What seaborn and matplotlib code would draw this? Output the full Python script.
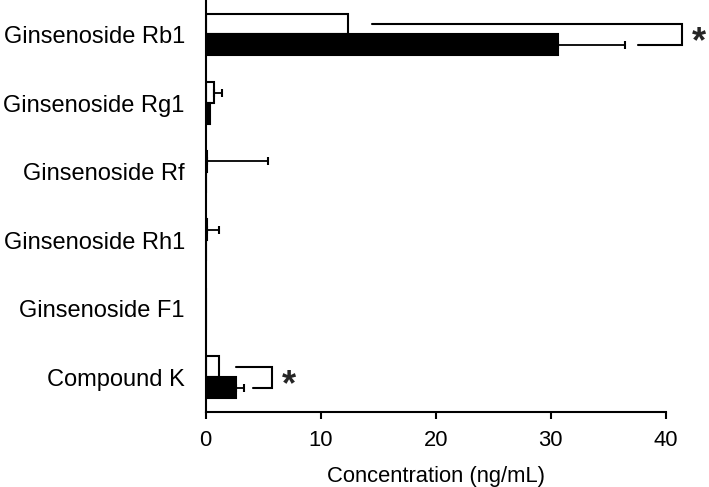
import seaborn as sns
import matplotlib.pyplot as plt
import pandas as pd
import numpy as np

# values (ng/mL)
categories = ["Ginsenoside Rb1", "Ginsenoside Rg1", "Ginsenoside Rf",
              "Ginsenoside Rh1", "Ginsenoside F1", "Compound K"]
groups = ["Group 1", "Group 2"]
white_mean = [12.4, 0.7, 0.1, 0.1, 0.0, 1.2]
white_sd = [0.0, 0.7, 5.3, 1.1, 0.0, 0.0]
black_mean = [30.6, 0.4, 0.0, 0.0, 0.0, 2.6]
black_sd = [5.9, 0.0, 0.0, 0.0, 0.0, 0.7]

# significance brackets
sig_categories = ["Ginsenoside Rb1", "Compound K"]
bracket_x = [41.4, 5.75]
bracket_top_start = [14.5, 2.6]
bracket_bottom_start = [37.6, 4.1]

df = pd.DataFrame({
    "Compound": categories * 2,
    "Group": [groups[0]] * len(categories) + [groups[1]] * len(categories),
    "Value": white_mean + black_mean,
})

sns.set_style("ticks")
plt.rcParams["font.family"] = ["Liberation Sans", "DejaVu Sans"]

fig = plt.figure(figsize=(7.09, 4.87), dpi=100)
ax = fig.add_axes([0.290, 0.1546, 0.649, 0.845])

sns.barplot(
    data=df, x="Value", y="Compound", hue="Group", orient="h",
    order=categories, hue_order=groups,
    palette={groups[0]: "white", groups[1]: "black"},
    edgecolor="black", linewidth=1.5, width=0.61,
    errorbar=None, legend=False, ax=ax,
)

# one-sided error bars on each series
for container, means, sds in zip(ax.containers, [white_mean, black_mean], [white_sd, black_sd]):
    for patch, m, s in zip(container.patches, means, sds):
        if s <= 0:
            continue
        yc = patch.get_y() + patch.get_height() / 2
        ax.errorbar(m, yc, xerr=[[0], [s]], fmt="none", ecolor="black",
                    elinewidth=1.3, capsize=3, capthick=1.5, clip_on=False)

# brackets with asterisks
for cat, bx, t0, b0 in zip(sig_categories, bracket_x, bracket_top_start, bracket_bottom_start):
    i = categories.index(cat)
    pw = ax.containers[0].patches[i]
    pb = ax.containers[1].patches[i]
    yw = pw.get_y() + pw.get_height() / 2
    yb = pb.get_y() + pb.get_height() / 2
    ax.plot([t0, bx, bx, b0], [yw, yw, yb, yb], color="black", lw=1.5,
            clip_on=False, solid_joinstyle="miter")
    ax.text(bx + 0.85, (yw + yb) / 2 + 0.12, "*", fontsize=26, fontweight="bold",
            ha="left", va="center", clip_on=False)

ax.set_xlim(0, 40)
ax.set_ylim(5.5, -0.5)
ax.set_xticks([0, 10, 20, 30, 40])
ax.set_xlabel("Concentration (ng/mL)", fontsize=15.8, color="black", labelpad=11)
ax.set_ylabel("")
ax.tick_params(axis="x", labelsize=15.8, length=5, width=1.5, colors="black",
               direction="out", pad=8)
ax.tick_params(axis="y", labelsize=17, length=0, colors="black", pad=15)
sns.despine(ax=ax)
for sp in ["left", "bottom"]:
    ax.spines[sp].set_linewidth(1.5)
    ax.spines[sp].set_color("black")

fig.savefig("out.png", dpi=100)
